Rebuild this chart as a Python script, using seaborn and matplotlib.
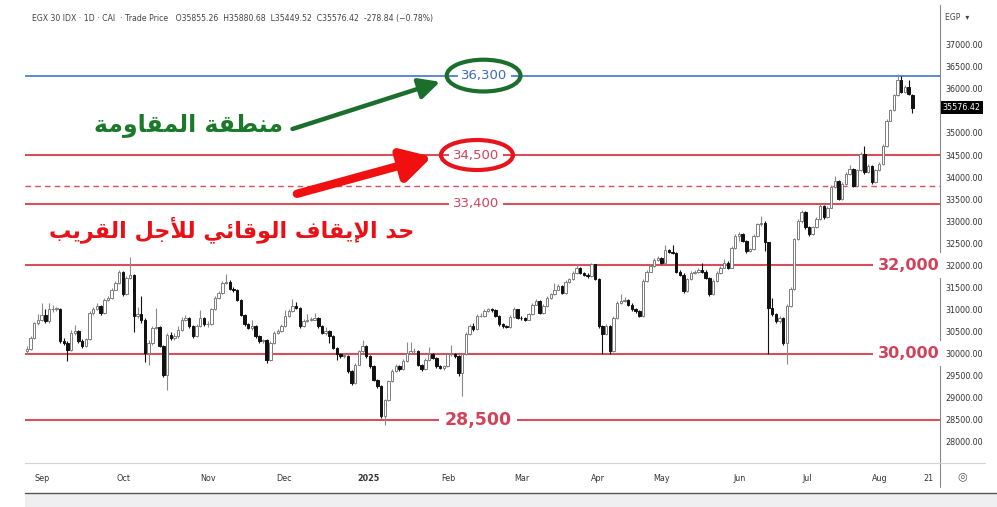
import numpy as np
import matplotlib
matplotlib.use("Agg")
import matplotlib.pyplot as plt
from matplotlib.patches import Ellipse, Rectangle
from matplotlib.lines import Line2D
import matplotlib.transforms as mtransforms
import seaborn as sns

# ========== data ==========
opens = [
    30050, 30110, 30350, 30690, 30770, 30880, 30730, 31000, 31010, 31010,
    30280, 30250, 30090, 30470, 30510, 30280, 30170, 30320, 30920, 31010,
    31070, 30920, 31220, 31260, 31450, 31600, 31860, 31340, 31710, 31790,
    30850, 30900, 30770, 30020, 30240, 30580, 30600, 30170, 29520, 30430,
    30350, 30390, 30540, 30770, 30810, 30620, 30390, 30620, 30810, 30660,
    30660, 31000, 31260, 31370, 31600, 31620, 31460, 31450, 31220,
    30880, 30660, 30580, 30620, 30390, 30280, 30300, 29860, 30240, 30470,
    30510, 30620, 30850, 30960, 31080, 31040, 30620, 30740, 30770, 30770,
    30810, 30620, 30470, 30510, 30390, 30130, 29980, 29950, 29950, 29600,
    29330, 29750, 30050, 30170, 29940, 29710, 29410, 29260, 28580, 28950,
    29370, 29600, 29710, 29640, 29830, 30020, 30050, 30050, 29750, 29640,
    29860, 29980, 29900, 29710, 29670, 29710, 29980, 29980, 29940, 29550,
    29980, 30440, 30620, 30550, 30850, 30860, 30960, 31000, 30990, 30850,
    30660, 30620, 30610, 30830, 31000, 30810, 30800, 30770, 30890, 31110,
    31190, 30920, 31080, 31260, 31340, 31450, 31530, 31380, 31620, 31680,
    31830, 31940, 31830, 31790, 31750, 32020, 31690, 30620, 30440, 30620,
    30060, 30810, 31150, 31190, 31210, 31110, 31000, 30960, 30850, 31640,
    31860, 31980, 32130, 32170, 32050, 32350, 32300, 32280, 31860, 31790,
    31410, 31680, 31830, 31850, 31900, 31860, 31710, 31340,
    31640, 31830, 31950, 32060, 31950, 32400, 32670, 32710, 32550, 32330,
    32360, 32670, 32930, 32970, 32520, 31040, 30890, 30740, 30810, 30240,
    31080, 31460, 32590, 33010, 33200, 32860, 32710, 32860, 33050, 33350,
    33090, 33310, 33770, 33920, 33500, 33840, 34070, 34180, 33800, 34150,
    34530, 34110, 34260, 33880, 34150, 34300, 34710, 35280, 35510, 35850,
    36190, 35930, 36040, 35855.26,
]
highs = [
    30180, 30400, 30720, 30900, 31150, 31000, 31150, 31100, 31060, 31030,
    30350, 30290, 30530, 30650, 30540, 30320, 30360, 30960, 31060, 31150,
    31090, 31250, 31310, 31490, 31650, 31890, 31880, 31760, 32200, 31810,
    31050, 31300, 30800, 30300, 30620, 31030, 30630, 30190, 30470, 30480,
    30470, 30620, 30820, 30870, 30840, 30650, 30660, 30980, 30840, 30740,
    31040, 31300, 31420, 31640, 31810, 31660, 31520, 31470, 31240,
    30900, 30700, 30750, 30650, 30420, 30340, 30320, 30280, 30510, 30560,
    30660, 30990, 31000, 31240, 31180, 31060, 30780, 30900, 30820, 30920,
    30830, 30640, 30600, 30530, 30410, 30150, 30010, 29990, 29970, 29620,
    29780, 30080, 30300, 30190, 29960, 29730, 29430, 29280, 28980, 29400,
    29640, 29760, 29740, 29870, 30270, 30270, 30120, 30070, 29770, 29890,
    30140, 30010, 29920, 29730, 29750, 30020, 30200, 30010, 29960, 30010,
    30480, 30670, 30700, 30890, 30920, 31000, 31040, 31030, 31010, 30870,
    30690, 30650, 30870, 31050, 31020, 30850, 30830, 30930, 31150, 31230,
    31210, 31120, 31300, 31380, 31600, 31570, 31550, 31660, 31720, 31870,
    32020, 31960, 31860, 31820, 32060, 32040, 31710, 30650, 30660, 30640,
    30850, 31190, 31360, 31280, 31240, 31140, 31040, 30990, 31680, 31900,
    32020, 32170, 32210, 32200, 32460, 32380, 32460, 32300, 31890, 31820,
    31720, 31870, 31890, 31940, 32050, 31890, 31730, 31680,
    31870, 31990, 32140, 32090, 32440, 32710, 32750, 32740, 32580, 32400,
    32700, 32970, 33120, 33000, 32540, 31250, 30920, 30850, 30840, 31120,
    31500, 32630, 33050, 33250, 33220, 32890, 32900, 33090, 33390, 33370,
    33350, 33810, 34030, 33940, 33880, 34110, 34280, 34200, 34190, 34570,
    34700, 34300, 34280, 34190, 34340, 34750, 35320, 35550, 35890, 36340,
    36280, 36080, 36200, 35880.68,
]
lows = [
    29980, 30080, 30330, 30650, 30740, 30700, 30700, 30950, 30960, 30250,
    30200, 29830, 30060, 30430, 30250, 30130, 30140, 30300, 30880, 30980,
    30880, 30900, 31190, 31230, 31430, 31580, 31300, 31320, 31680, 30480,
    30800, 30700, 29800, 29730, 30200, 30550, 30140, 29480, 29170, 30300,
    30300, 30360, 30520, 30740, 30590, 30360, 30370, 30600, 30630, 30610,
    30640, 30980, 31230, 31350, 31570, 31430, 31400, 31190, 30850,
    30630, 30550, 30540, 30360, 30250, 30240, 29780, 29830, 30220, 30440,
    30490, 30600, 30830, 30940, 31000, 30590, 30600, 30720, 30730, 30750,
    30590, 30440, 30430, 30240, 30100, 29850, 29900, 29910, 29570, 29280,
    29310, 29730, 30020, 29910, 29680, 29380, 29230, 28540, 28380, 28930,
    29350, 29580, 29600, 29620, 29810, 30000, 30010, 29720, 29610, 29620,
    29840, 29870, 29680, 29640, 29630, 29690, 29940, 29900, 29500, 29030,
    29960, 30420, 30520, 30530, 30820, 30840, 30940, 30950, 30820, 30630,
    30590, 30580, 30590, 30810, 30780, 30770, 30740, 30750, 30870, 31090,
    30890, 30900, 31060, 31240, 31320, 31430, 31350, 31360, 31600, 31660,
    31810, 31800, 31760, 31720, 31730, 31660, 30590, 30000, 30410, 30000,
    30040, 30790, 31130, 31160, 31080, 30970, 30930, 30820, 30830, 31620,
    31840, 31960, 32100, 32020, 32030, 32270, 32250, 31830, 31750, 31380,
    31390, 31660, 31810, 31820, 31830, 31680, 31310, 31320,
    31620, 31810, 31930, 31920, 31930, 32380, 32560, 32520, 32270, 32300,
    32340, 32650, 32900, 32330, 30000, 30860, 30700, 30700, 30200, 29760,
    31060, 31440, 32570, 32950, 32830, 32660, 32690, 32840, 33030, 33060,
    33070, 33290, 33750, 33470, 33480, 33820, 34050, 33770, 33780, 34130,
    34080, 34090, 33850, 33860, 34130, 34280, 34690, 35260, 35490, 35830,
    35900, 35910, 35860, 35449.52,
]
closes = [
    30110, 30350, 30690, 30770, 30880, 30730, 31000, 31010, 31010, 30280,
    30250, 30090, 30470, 30510, 30280, 30170, 30320, 30920, 31010, 31070,
    30920, 31220, 31260, 31450, 31600, 31860, 31340, 31710, 31790, 30850,
    30900, 30770, 30020, 30240, 30580, 30600, 30170, 29520, 30430, 30350,
    30390, 30540, 30770, 30810, 30620, 30390, 30620, 30810, 30660, 30660,
    31000, 31260, 31370, 31600, 31620, 31460, 31450, 31220, 30880,
    30660, 30580, 30620, 30390, 30280, 30300, 29860, 30240, 30470, 30510,
    30620, 30850, 30960, 31080, 31040, 30620, 30740, 30770, 30770, 30810,
    30620, 30470, 30510, 30390, 30130, 29980, 29950, 29950, 29600, 29330,
    29750, 30050, 30170, 29940, 29710, 29410, 29260, 28580, 28950, 29370,
    29600, 29710, 29640, 29830, 30020, 30050, 30050, 29750, 29640, 29860,
    29980, 29900, 29710, 29670, 29710, 29980, 29980, 29940, 29550, 29980,
    30440, 30620, 30550, 30850, 30860, 30960, 31000, 30990, 30850, 30660,
    30620, 30610, 30830, 31000, 30810, 30800, 30770, 30890, 31110, 31190,
    30920, 31080, 31260, 31340, 31450, 31530, 31380, 31620, 31680, 31830,
    31940, 31830, 31790, 31750, 32020, 31690, 30620, 30440, 30620, 30060,
    30810, 31150, 31190, 31210, 31110, 31000, 30960, 30850, 31640, 31860,
    31980, 32130, 32170, 32050, 32350, 32300, 32280, 31860, 31790, 31410,
    31680, 31830, 31850, 31900, 31860, 31710, 31340, 31640,
    31830, 31950, 32060, 31950, 32400, 32670, 32710, 32550, 32330, 32360,
    32670, 32930, 32970, 32520, 31040, 30890, 30740, 30810, 30240, 31080,
    31460, 32590, 33010, 33200, 32860, 32710, 32860, 33050, 33350, 33090,
    33310, 33770, 33920, 33500, 33840, 34070, 34180, 33800, 34150, 34530,
    34110, 34260, 33880, 34150, 34300, 34710, 35280, 35510, 35850, 36190,
    35930, 36040, 35890, 35576.42,
]

month_labels = ["Sep", "Oct", "Nov", "Dec", "2025", "Feb", "Mar", "Apr", "May", "Jun", "Jul", "Aug", "21"]
month_pos = [4.1, 26.3, 49.1, 69.7, 92.6, 114.3, 134.1, 154.7, 172.1, 193.2, 211.4, 231.2, 244.5]

# scale labels (35500 sits under the last-price tag, so it is not shown)
scale_ticks = [28000, 28500, 29000, 29500, 30000, 30500, 31000, 31500, 32000, 32500,
               33000, 33500, 34000, 34500, 35000, 36000, 36500, 37000]

level_prices = [36300, 34500, 33400, 32000, 30000, 28500]
level_labels = ["36,300", "34,500", "33,400", "32,000", "30,000", "28,500"]
dashed_level = 33800

header = "EGX 30 IDX · 1D · CAI  · Trade Price   O35855.26  H35880.68  L35449.52  C35576.42  -278.84 (\u22120.78%)"
txt_resist = "منطقة المقاومة"
txt_stop = "حد الإيقاف الوقائي للأجل القريب"

# ========== Arabic shaping (matplotlib has no shaping engine) ==========
FORMS = {
    "ا": ("\uFE8D", "\uFE8E", None, None),
    "أ": ("\uFE83", "\uFE84", None, None),
    "إ": ("\uFE87", "\uFE88", None, None),
    "ب": ("\uFE8F", "\uFE90", "\uFE91", "\uFE92"),
    "ة": ("\uFE93", "\uFE94", None, None),
    "ج": ("\uFE9D", "\uFE9E", "\uFE9F", "\uFEA0"),
    "ح": ("\uFEA1", "\uFEA2", "\uFEA3", "\uFEA4"),
    "د": ("\uFEA9", "\uFEAA", None, None),
    "ر": ("\uFEAD", "\uFEAE", None, None),
    "ط": ("\uFEC1", "\uFEC2", "\uFEC3", "\uFEC4"),
    "ف": ("\uFED1", "\uFED2", "\uFED3", "\uFED4"),
    "ق": ("\uFED5", "\uFED6", "\uFED7", "\uFED8"),
    "ل": ("\uFEDD", "\uFEDE", "\uFEDF", "\uFEE0"),
    "م": ("\uFEE1", "\uFEE2", "\uFEE3", "\uFEE4"),
    "ن": ("\uFEE5", "\uFEE6", "\uFEE7", "\uFEE8"),
    "و": ("\uFEED", "\uFEEE", None, None),
    "ي": ("\uFEF1", "\uFEF2", "\uFEF3", "\uFEF4"),
    "ئ": ("\uFE89", "\uFE8A", "\uFE8B", "\uFE8C"),
}
LAM_ALEF = {"ا": ("\uFEFB", "\uFEFC"), "أ": ("\uFEF7", "\uFEF8"), "إ": ("\uFEF9", "\uFEFA")}


def shape_ar(text):
    items = []
    i = 0
    while i < len(text):
        if text[i] == "ل" and i + 1 < len(text) and text[i + 1] in LAM_ALEF:
            items.append(("LA", text[i + 1]))
            i += 2
        else:
            items.append((text[i], None))
            i += 1

    def joins_next(it):
        return it[0] in FORMS and FORMS[it[0]][2] is not None

    def joinable(it):
        return it[0] == "LA" or it[0] in FORMS

    out = []
    for k, it in enumerate(items):
        prev_j = k > 0 and joins_next(items[k - 1]) and joinable(it)
        next_j = k + 1 < len(items) and joins_next(it) and joinable(items[k + 1])
        if it[0] == "LA":
            out.append(LAM_ALEF[it[1]][1 if prev_j else 0])
        elif it[0] in FORMS:
            f = FORMS[it[0]]
            if prev_j and next_j:
                out.append(f[3])
            elif prev_j:
                out.append(f[1])
            elif next_j:
                out.append(f[2])
            else:
                out.append(f[0])
        else:
            out.append(it[0])
    return "".join(reversed(out))


# ========== style ==========
sns.set_theme(style="white")
plt.rcParams["font.family"] = ["DejaVu Sans"]

W, H = 997, 507
fig = plt.figure(figsize=(W / 100, H / 100), dpi=100)
fig.patch.set_facecolor("white")
ax = fig.add_axes([25 / W, (H - 463) / H, (940 - 25) / W, (463 - 5) / H])

# ========== candles ==========
o = np.array(opens, dtype=float)
h = np.array(highs, dtype=float)
l = np.array(lows, dtype=float)
c = np.array(closes, dtype=float)
x = np.arange(len(c))
up = c >= o

ax.vlines(x[up], l[up], h[up], color="#8a8a8a", lw=0.8, zorder=3)
ax.vlines(x[~up], l[~up], h[~up], color="#111111", lw=0.8, zorder=3)
body_lo = np.minimum(o, c)
body_h = np.maximum(np.abs(c - o), 12)
ax.bar(x[up], body_h[up], bottom=body_lo[up], width=0.66, color="white",
       edgecolor="#7d7d7d", linewidth=0.7, zorder=4)
ax.bar(x[~up], body_h[~up], bottom=body_lo[~up], width=0.66, color="#111111",
       edgecolor="#111111", linewidth=0.7, zorder=4)

# ========== levels ==========
red_line = "#d5505d"
red_txt = "#d2435a"
for price, lab in zip(level_prices, level_labels):
    if price == 36300:
        ax.axhline(price, color="#4f80d0", lw=1.3, zorder=2)
        ax.text(124.0, price, lab, color="#3d6bc4", fontsize=9.5, ha="center", va="center",
                bbox=dict(boxstyle="square,pad=0.25", fc="white", ec="none"), zorder=6)
    else:
        ax.axhline(price, color=red_line, lw=1.5, zorder=2)
        if price in (32000, 30000):
            xp, fs, fw = 239.0, 11.5, "bold"
        elif price == 28500:
            xp, fs, fw = 122.3, 12.5, "bold"
        else:
            xp, fs, fw = 121.8, 9.5, "normal"
        ax.text(xp, price, lab, color=red_txt, fontsize=fs, fontweight=fw, ha="center",
                va="center", bbox=dict(boxstyle="square,pad=0.3", fc="white", ec="none"), zorder=6)
ax.axhline(dashed_level, color=red_line, lw=1.0, ls=(0, (4, 3)), zorder=2)

# ellipses around targets
ax.add_patch(Ellipse((123.8, 36300), 20.0, 720, fill=False, ec="#1b6e2c", lw=3, zorder=7))
ax.add_patch(Ellipse((122.0, 34500), 19.5, 680, fill=False, ec="#e8141c", lw=3, zorder=7))

# arrows
ax.annotate("", xy=(112.0, 36160), xytext=(72.0, 35090),
            arrowprops=dict(arrowstyle="-|>,head_length=0.7,head_width=0.35",
                            mutation_scale=18, lw=3.2, color="#1b6e2c", shrinkA=0, shrinkB=0), zorder=8)
ax.annotate("", xy=(109.8, 34460), xytext=(73.2, 33620),
            arrowprops=dict(arrowstyle="-|>,head_length=0.8,head_width=0.45",
                            mutation_scale=22, lw=6.0, color="#f01010", shrinkA=0, shrinkB=0), zorder=8)

# Arabic annotations
ax.text(43.7, 35170, shape_ar(txt_resist), color="#1a7a2a", fontsize=17, fontweight="bold",
        ha="center", va="center", zorder=9)
ax.text(55.6, 32810, shape_ar(txt_stop), color="#ea1018", fontsize=16, fontweight="bold",
        ha="center", va="center", zorder=9)

# ========== axes ==========
ax.set_xlim(-0.5, 247.5)
ax.set_ylim(27520, 37900)
ax.yaxis.tick_right()
ax.set_yticks(scale_ticks)
ax.set_yticklabels([f"{v:.2f}" for v in scale_ticks])
ax.tick_params(axis="y", length=0, pad=4, labelsize=5.8, labelcolor="#333333")
ax.set_xticks(month_pos)
ax.set_xticklabels(month_labels)
ax.tick_params(axis="x", length=0, pad=8, labelsize=5.8, labelcolor="#333333")
for t in ax.get_xticklabels():
    if t.get_text() == "2025":
        t.set_fontweight("bold")
sns.despine(ax=ax, left=True, top=True, right=False, bottom=False)
ax.spines["right"].set_color("#8a8a8a")
ax.spines["right"].set_linewidth(0.8)
ax.spines["bottom"].set_color("#d4d4d4")
ax.spines["bottom"].set_linewidth(0.8)
ax.grid(False)

# last price tag on the scale
trans = mtransforms.blended_transform_factory(ax.transAxes, ax.transData)
ax.text(1.003, closes[-1], f"{closes[-1]:.2f}", transform=trans, fontsize=5.8, color="white",
        ha="left", va="center", bbox=dict(boxstyle="square,pad=0.25", fc="black", ec="none"),
        clip_on=False, zorder=10)

# header, currency, chrome
fig.text(32 / W, 1 - 18 / H, header, fontsize=5.6, color="#444444", va="center")
fig.text(945 / W, 1 - 18 / H, "EGP  \u25BE", fontsize=5.6, color="#444444", va="center")
fig.add_artist(Line2D([940 / W, 940 / W], [1 - 487 / H, 1 - 463 / H], color="#8a8a8a", lw=0.8))
fig.add_artist(Line2D([940 / W, 985 / W], [1 - 463 / H, 1 - 463 / H], color="#d4d4d4", lw=0.8))
fig.add_artist(Line2D([25 / W, 1.0], [1 - 493 / H, 1 - 493 / H], color="#555555", lw=1.0))
fig.add_artist(Rectangle((25 / W, 0), 1 - 25 / W, (507 - 494) / H, transform=fig.transFigure,
                         fc="#efeff2", ec="none"))
fig.text(962 / W, 1 - 476 / H, "\u25CE", fontsize=8, color="#555555", ha="center", va="center")

plt.savefig("out.png", dpi=100)
plt.close()
